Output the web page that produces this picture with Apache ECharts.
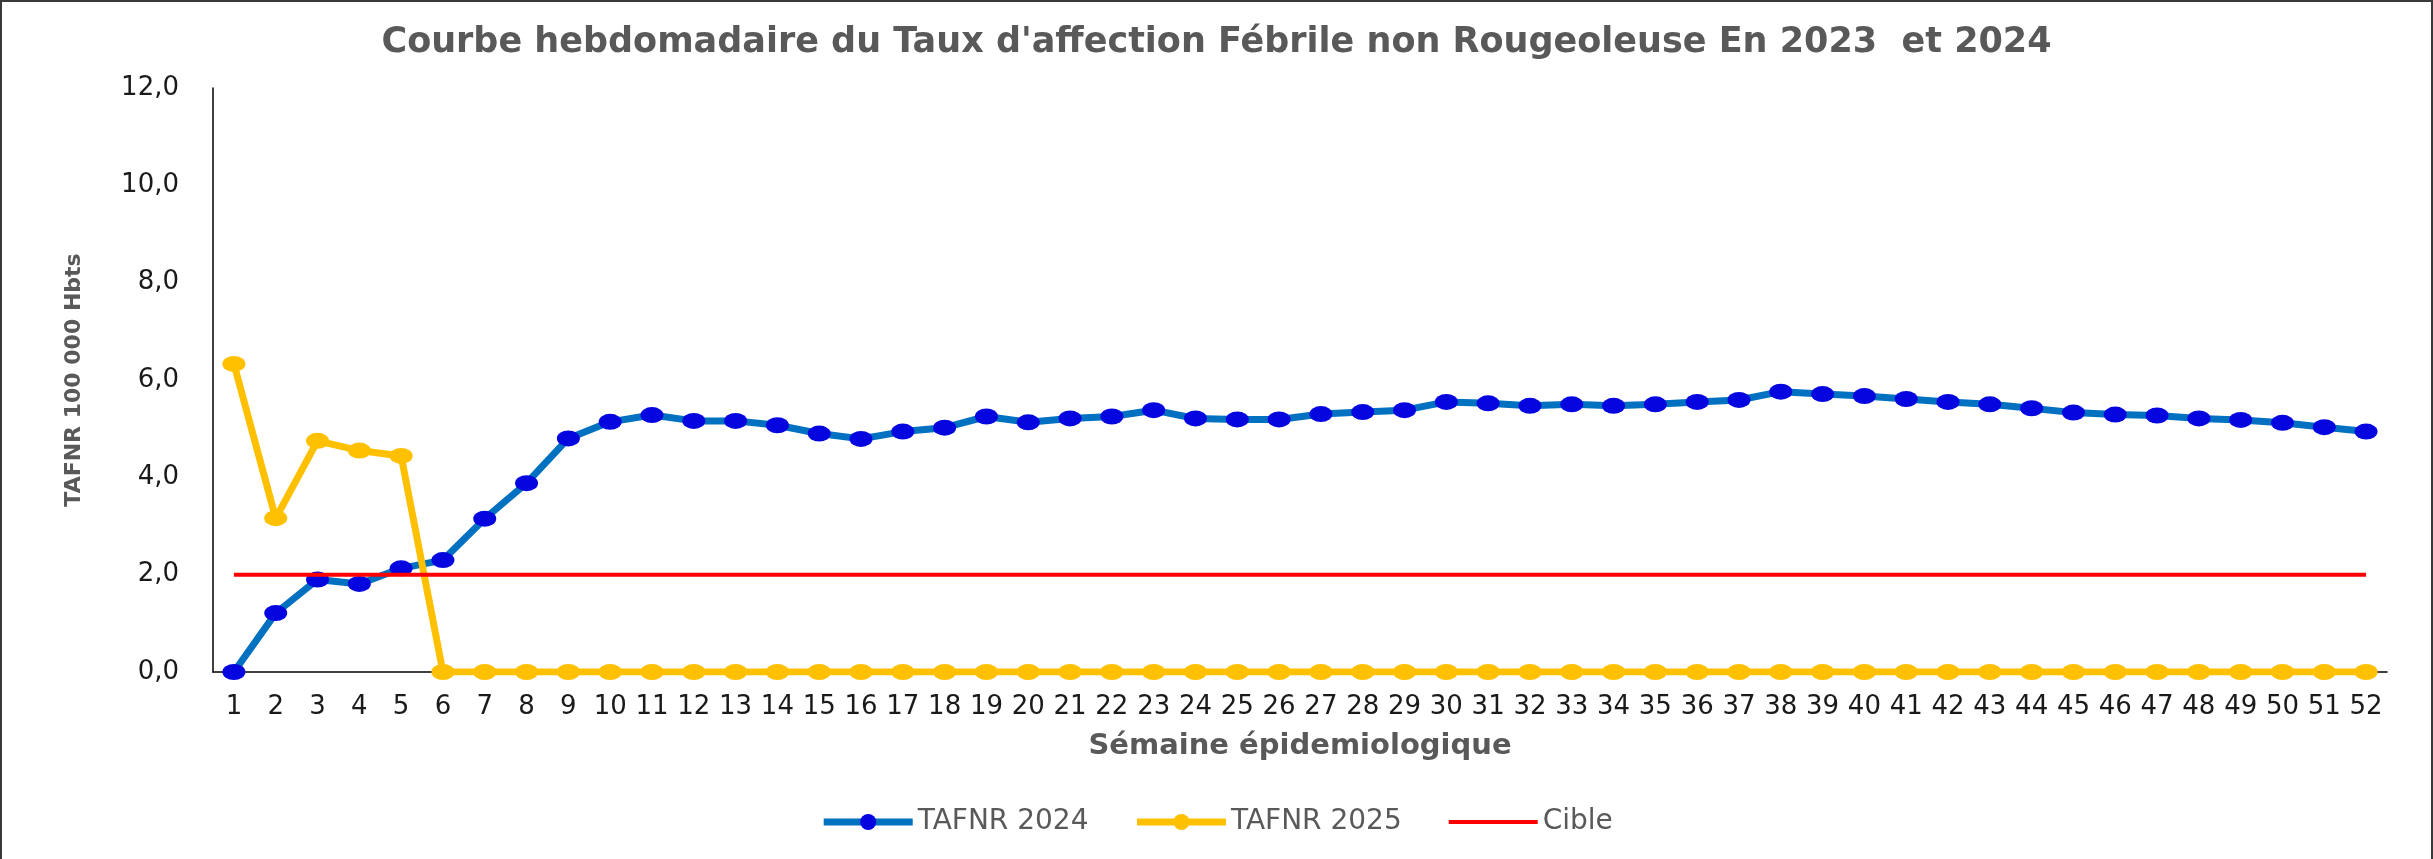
<!DOCTYPE html>
<html>
<head>
<meta charset="utf-8">
<script src="https://cdn.jsdelivr.net/npm/echarts@6/dist/echarts.min.js"></script>
<style>
  html, body { margin: 0; padding: 0; background: #fff; }
  #wrap { position: relative; width: 2433px; height: 859px; }
  #chart { position: absolute; left: 0; top: 0; width: 2433px; height: 859px; }
  #frame { position: absolute; left: 0; top: 0; width: 2433px; height: 859px; box-sizing: border-box;
           border-left: 2px solid #3a3a3a; border-top: 2px solid #3a3a3a; border-right: 2px solid #3a3a3a; pointer-events: none; }
</style>
</head>
<body>
<div id="wrap"><div id="chart"></div><div id="frame"></div></div>
<script>
const weeks = ['1','2','3','4','5','6','7','8','9','10','11','12','13','14','15','16','17','18','19','20','21','22','23','24','25','26','27','28','29','30','31','32','33','34','35','36','37','38','39','40','41','42','43','44','45','46','47','48','49','50','51','52'];

const tafnr2024 = [0.00, 1.21, 1.90, 1.81, 2.13, 2.30, 3.15, 3.88, 4.80, 5.14,
                   5.28, 5.16, 5.16, 5.07, 4.90, 4.79, 4.94, 5.02, 5.25, 5.13,
                   5.21, 5.25, 5.38, 5.21, 5.19, 5.19, 5.30, 5.34, 5.38, 5.55,
                   5.52, 5.47, 5.50, 5.47, 5.50, 5.55, 5.59, 5.76, 5.71, 5.67,
                   5.61, 5.55, 5.50, 5.42, 5.33, 5.29, 5.27, 5.21, 5.18, 5.12,
                   5.03, 4.94];

const tafnr2025 = [6.33, 3.16, 4.75, 4.55, 4.44, 0, 0, 0, 0, 0,
                   0, 0, 0, 0, 0, 0, 0, 0, 0, 0,
                   0, 0, 0, 0, 0, 0, 0, 0, 0, 0,
                   0, 0, 0, 0, 0, 0, 0, 0, 0, 0,
                   0, 0, 0, 0, 0, 0, 0, 0, 0, 0,
                   0, 0];

const cible = [2, 2, 2, 2, 2, 2, 2, 2, 2, 2,
               2, 2, 2, 2, 2, 2, 2, 2, 2, 2,
               2, 2, 2, 2, 2, 2, 2, 2, 2, 2,
               2, 2, 2, 2, 2, 2, 2, 2, 2, 2,
               2, 2, 2, 2, 2, 2, 2, 2, 2, 2,
               2, 2];

const yTicks = ['0,0', '2,0', '4,0', '6,0', '8,0', '10,0', '12,0'];

const FONT = 'DejaVu Sans';
const chart = echarts.init(document.getElementById('chart'), null, { renderer: 'canvas' });
chart.setOption({
  animation: false,
  backgroundColor: '#ffffff',
  title: {
    text: "Courbe hebdomadaire du Taux d'affection Fébrile non Rougeoleuse En 2023  et 2024",
    left: 'center',
    top: 20,
    textStyle: { fontFamily: FONT, fontSize: 35, fontWeight: 'bold', color: '#595959' }
  },
  legend: {
    left: 'center',
    top: 803,
    itemWidth: 89,
    itemHeight: 20,
    itemGap: 45,
    textStyle: { fontFamily: FONT, fontSize: 28, color: '#595959' },
    data: [
      { name: 'TAFNR 2024', lineStyle: { width: 7, color: '#0070C0' }, itemStyle: { color: '#0505E0' } },
      { name: 'TAFNR 2025', lineStyle: { width: 7, color: '#FFC000' }, itemStyle: { color: '#FFC000' } },
      { name: 'Cible', lineStyle: { width: 4, color: '#FF0000' }, itemStyle: { opacity: 0 } }
    ]
  },
  grid: { left: 213, right: 46, top: 88, bottom: 187, containLabel: false },
  xAxis: {
    type: 'category',
    data: weeks,
    boundaryGap: true,
    name: 'Sémaine épidemiologique',
    nameLocation: 'middle',
    nameGap: 60,
    nameTextStyle: { fontFamily: FONT, fontSize: 29, fontWeight: 'bold', color: '#595959' },
    axisLine: { show: true, lineStyle: { color: '#000', width: 1.5 } },
    axisTick: { show: false },
    axisLabel: { interval: 0, margin: 22, fontFamily: FONT, fontSize: 26, color: '#1a1a1a' },
    splitLine: { show: false }
  },
  yAxis: {
    type: 'value',
    min: 0,
    max: 12,
    interval: 2,
    name: 'TAFNR 100 000 Hbts',
    nameLocation: 'middle',
    nameGap: 128,
    nameRotate: 90,
    nameTextStyle: { fontFamily: FONT, fontSize: 22, fontWeight: 'bold', color: '#595959' },
    axisLine: { show: true, lineStyle: { color: '#000', width: 1.5 } },
    axisTick: { show: false },
    splitLine: { show: false },
    axisLabel: {
      margin: 34,
      fontFamily: FONT, fontSize: 26, color: '#1a1a1a',
      formatter: function (v) { return yTicks[Math.round(v / 2)]; }
    }
  },
  series: [
    {
      name: 'TAFNR 2024',
      type: 'line',
      data: tafnr2024,
      z: 2,
      symbol: 'circle',
      symbolSize: [23, 16],
      showAllSymbol: true,
      lineStyle: { color: '#0070C0', width: 7 },
      itemStyle: { color: '#0505E0' }
    },
    {
      name: 'TAFNR 2025',
      type: 'line',
      data: tafnr2025,
      z: 3,
      symbol: 'circle',
      symbolSize: [23, 16],
      showAllSymbol: true,
      lineStyle: { color: '#FFC000', width: 7 },
      itemStyle: { color: '#FFC000' }
    },
    {
      name: 'Cible',
      type: 'line',
      data: cible,
      z: 4,
      symbol: 'none',
      lineStyle: { color: '#FF0000', width: 4 },
      itemStyle: { color: '#FF0000' }
    }
  ]
});
</script>
</body>
</html>
